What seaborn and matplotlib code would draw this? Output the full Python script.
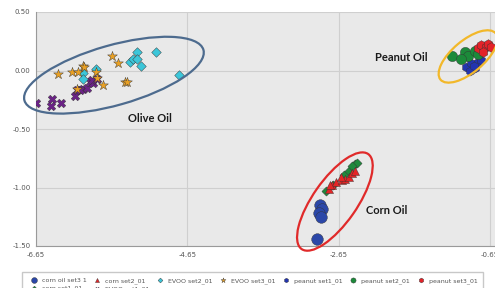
import numpy as np
import pandas as pd
import matplotlib
matplotlib.use("Agg")
import matplotlib.pyplot as plt
import matplotlib.transforms as mtransforms
from matplotlib.patches import Ellipse
import seaborn as sns

# ---- data ----
evoo1_x = [-6.65, -6.44, -6.45, -6.32, -6.14, -6.11, -6.03, -5.98, -5.94, -5.90, -5.91, -5.85, -6.07]
evoo1_y = [-0.28, -0.24, -0.30, -0.28, -0.22, -0.17, -0.16, -0.15, -0.10, -0.11, -0.08, -0.07, -0.17]

evoo3_x = [-6.36, -6.18, -6.10, -6.03, -5.86, -5.85, -5.76, -5.64, -5.57, -5.48, -5.45, -6.11, -6.01]
evoo3_y = [-0.03, -0.01, -0.01, 0.04, -0.01, -0.06, -0.12, 0.12, 0.06, -0.10, -0.10, -0.16, 0.03]

evoo2_x = [-6.03, -6.03, -5.86, -5.41, -5.37, -5.32, -5.32, -5.26, -5.06, -4.76]
evoo2_y = [-0.02, -0.07, 0.01, 0.07, 0.10, 0.16, 0.10, 0.04, 0.16, -0.04]

peanut2_x = [-1.15, -0.98, -0.94, -0.85, -0.81, -1.03]
peanut2_y = [0.12, 0.16, 0.12, 0.17, 0.14, 0.10]

peanut3_x = [-0.81, -0.77, -0.70, -0.68, -0.74, -0.64]
peanut3_y = [0.19, 0.22, 0.20, 0.23, 0.16, 0.20]

peanut1_x = [-0.97, -0.90, -0.85, -0.81, -0.91, -0.77, -0.86]
peanut1_y = [0.03, 0.06, 0.02, 0.07, 0.00, 0.09, 0.04]

corn3_x = [-2.90, -2.87, -2.91, -2.89, -2.93]
corn3_y = [-1.15, -1.18, -1.22, -1.25, -1.44]

corn1_x = [-2.82, -2.72, -2.58, -2.52, -2.44, -2.41, -2.48]
corn1_y = [-1.03, -0.98, -0.89, -0.86, -0.80, -0.79, -0.82]

corn2_x = [-2.78, -2.74, -2.68, -2.61, -2.56, -2.52, -2.48, -2.43, -2.76, -2.62]
corn2_y = [-1.01, -0.98, -0.95, -0.94, -0.93, -0.91, -0.88, -0.86, -0.98, -0.91]

x_ticks = [-6.65, -4.65, -2.65, -0.65]
y_ticks = [0.50, 0.00, -0.50, -1.00, -1.50]

# legend order (column-major so the two short ones sit under the first two)
series = [
    ("corn oil set3 1", corn3_x, corn3_y, "o", "#2b47a8", 70),
    ("corn set1_01", corn1_x, corn1_y, "D", "#1f8a3c", 22),
    ("corn set2_01", corn2_x, corn2_y, "^", "#e32526", 34),
    ("EVOO set1_01", evoo1_x, evoo1_y, "X", "#6b2287", 38),
    ("EVOO set2_01", evoo2_x, evoo2_y, "D", "#3cc6d9", 24),
    ("EVOO set3_01", evoo3_x, evoo3_y, "*", "#e9a024", 55),
    ("peanut set1_01", peanut1_x, peanut1_y, "h", "#2335b0", 42),
    ("peanut set2_01", peanut2_x, peanut2_y, "o", "#1c8a3a", 55),
    ("peanut set3_01", peanut3_x, peanut3_y, "h", "#e32329", 48),
]

frames = []
for name, xs, ys, *_ in series:
    frames.append(pd.DataFrame({"x": xs, "y": ys, "set": name}))
df = pd.concat(frames, ignore_index=True)

sns.set_style("whitegrid")
fig = plt.figure(figsize=(4.95, 2.88), dpi=100)
ax = fig.add_axes([36 / 495, 1 - 246 / 288, 1 - 36 / 495, (246 - 12) / 288])
ax.set_facecolor("#e9e9e9")

for name, _, _, marker, color, size in series:
    sub = df[df["set"] == name]
    sns.scatterplot(data=sub, x="x", y="y", ax=ax, marker=marker, color=color,
                    s=size, edgecolor="#333333", linewidth=0.3, label=name, zorder=3)

# group ellipses: centre in data units, size in pixels
def add_ring(cx, cy, w, h, angle, color):
    tr = fig.dpi_scale_trans + mtransforms.ScaledTranslation(cx, cy, ax.transData)
    e = Ellipse((0, 0), w / 100, h / 100, angle=angle, transform=tr,
                fill=False, edgecolor=color, linewidth=1.6, zorder=4, clip_on=False)
    ax.add_patch(e)

add_ring(-5.62, -0.04, 186, 60, 15.8, "#4d6b8e")
add_ring(-0.94, 0.12, 72, 32, 40, "#f2b82a")
add_ring(-2.70, -1.12, 116, 44, 55, "#e02a2a")

lbl = dict(fontsize=8, fontweight="bold", family=["Lato", "DejaVu Sans"],
           ha="center", va="center", color="#1a1a1a", zorder=5)
ax.text(-5.15, -0.41, "Olive Oil", **lbl)
ax.text(-1.82, 0.11, "Peanut Oil", **lbl)
ax.text(-2.02, -1.20, "Corn Oil", **lbl)

ax.set_xlim(-6.65, -0.584)
ax.set_ylim(-1.5, 0.5)
ax.set_xticks(x_ticks)
ax.set_yticks(y_ticks)
ax.set_xticklabels([f"{v:.2f}" for v in x_ticks])
ax.set_yticklabels([f"{v:.2f}" for v in y_ticks])
ax.tick_params(labelsize=5, colors="#555555", length=3, width=0.6, pad=1)
ax.tick_params(axis="both", which="both", direction="out")
ax.grid(True, color="#cfcfcf", linewidth=0.8)
ax.set_xlabel("")
ax.set_ylabel("")
for side in ["top", "right"]:
    ax.spines[side].set_visible(False)
for side in ["left", "bottom"]:
    ax.spines[side].set_color("#9a9a9a")
    ax.spines[side].set_linewidth(0.8)

handles, labels = ax.get_legend_handles_labels()
ax.get_legend().remove()
leg = fig.legend(handles, labels, ncol=7, loc="upper left",
                 bbox_to_anchor=(22 / 495, 0, 461 / 495, 1 - 272 / 288),
                 mode="expand", fontsize=4.5, markerscale=0.5, frameon=True,
                 handletextpad=0.3, borderpad=0.9, labelspacing=0.35,
                 borderaxespad=0, fancybox=False, edgecolor="#bbbbbb")
for t in leg.get_texts():
    t.set_color("#555555")

fig.savefig("out.png", dpi=100)
